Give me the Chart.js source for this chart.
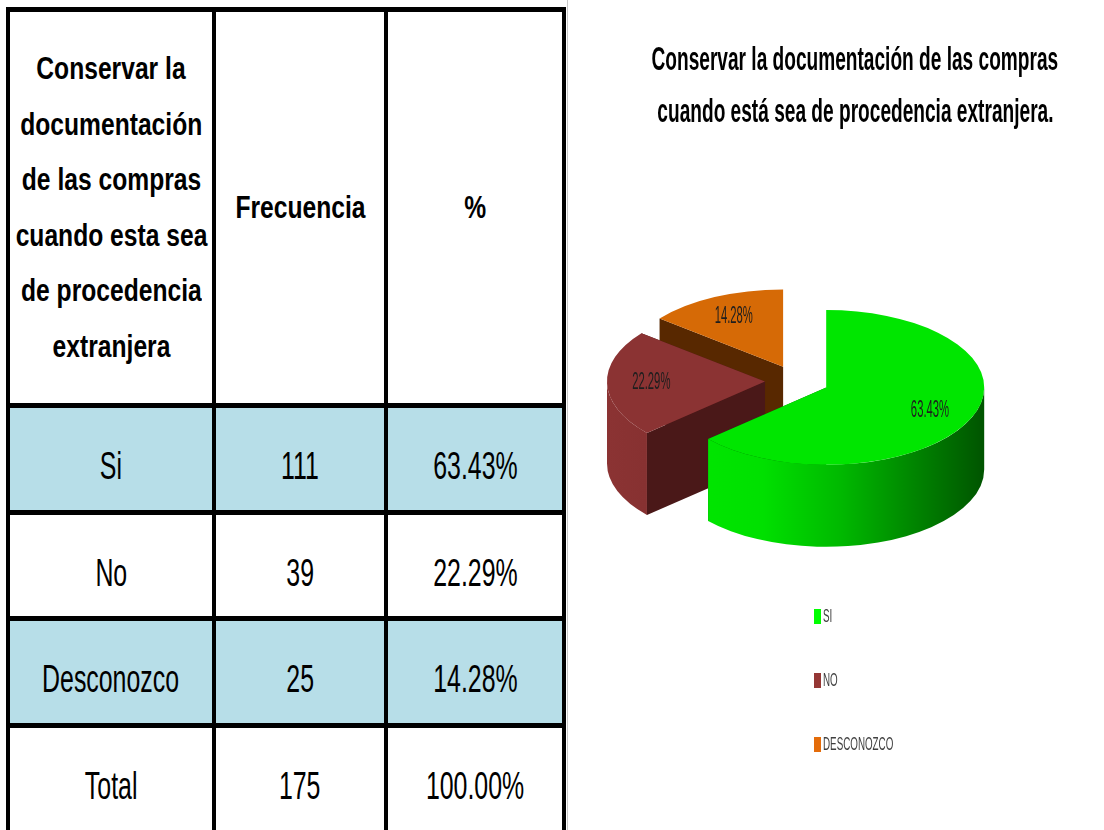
<!DOCTYPE html>
<html>
<head>
<meta charset="utf-8">
<script src="https://cdn.jsdelivr.net/npm/chart.js@4.4.1/dist/chart.umd.min.js"></script>
<style>
html,body{margin:0;padding:0;background:#fff;width:1104px;height:830px;overflow:hidden;position:relative;}
.nar{font-family:"Liberation Sans",Arial,sans-serif;}
#frame{position:absolute;background:#000;}
.cell{position:absolute;display:flex;flex-direction:column;align-items:center;justify-content:center;text-align:center;color:#000;}
.sx{display:inline-block;white-space:nowrap;transform-origin:center center;}
.hdr{font-weight:bold;font-size:32px;line-height:55.5px;}
.hdr .sx{transform:scaleX(0.77);}
.val{font-size:38px;line-height:44px;padding-top:14px;box-sizing:border-box;}
.val .sx{transform:scaleX(0.655);}
#panelLine{position:absolute;left:567px;top:0;width:1px;height:830px;background:#c8c8c8;}
#chartBox{position:absolute;left:567px;top:0;width:537px;height:830px;}
#title{position:absolute;left:255px;top:32px;width:1200px;display:flex;flex-direction:column;align-items:center;font-weight:bold;font-size:34px;line-height:52px;color:#000;pointer-events:none;}
#title .sx{transform:scaleX(0.562);}
#legend{position:absolute;left:814px;top:0;}
.li{position:absolute;left:0;height:16px;white-space:nowrap;display:flex;align-items:center;}
.li .box{display:inline-block;width:7px;height:15px;}
.li .txt{display:inline-block;font-size:18px;color:#404040;transform:scaleX(0.545);transform-origin:left center;margin-left:2px;}
</style>
</head>
<body>
<div id="frame"></div>
<div id="panelLine"></div>
<div id="chartBox"><canvas id="pie"></canvas></div>
<div id="title" class="nar"></div>
<div id="legend" class="nar"></div>
<script>
// ---------------- data ----------------
const headerQuestion = ['Conservar la', 'documentación', 'de las compras', 'cuando esta sea', 'de procedencia', 'extranjera'];
const headerFrequency = 'Frecuencia';
const headerPercent = '%';
const categories = ['Si', 'No', 'Desconozco'];
const frequencies = [111, 39, 25];
const percentLabels = ['63.43%', '22.29%', '14.28%'];
const totalLabel = 'Total';
const totalFrequency = 175;
const totalPercent = '100.00%';
const chartTitle = ['Conservar la documentación de las compras', 'cuando está sea de procedencia extranjera.'];
const legendLabels = ['SI', 'NO', 'DESCONOZCO'];

// ---------------- styles ----------------
const topColors = ['rgb(0,230,0)', 'rgb(139,51,51)', 'rgb(214,106,6)'];
const legendColors = ['#00ff00', '#953735', '#e46c0a'];
const wallStyles = [
  {side: '#006800', rim: [[0, '#00e800'], [0.3, '#00e000'], [0.55, '#00b800'], [0.8, '#008000'], [1, '#005400']]},
  {side: '#4a1818', rim: [[0, '#8b3333'], [1, '#6a2424']]},
  {side: '#582800', rim: [[0, '#b05800'], [1, '#703800']]}
];
const rowBg = ['#ffffff', '#b7dee8', '#ffffff', '#b7dee8', '#ffffff'];

// ---------------- table ----------------
const colX = [8, 214, 386, 564];
const rowY = [9, 405, 512, 618, 725, 832];
const frame = document.getElementById('frame');
frame.style.left = (colX[0] - 2) + 'px';
frame.style.top = (rowY[0] - 2) + 'px';
frame.style.width = (colX[3] - colX[0] + 4) + 'px';
frame.style.height = (rowY[5] - rowY[0] + 10) + 'px';

const rows = [
  [headerQuestion, [headerFrequency], [headerPercent]],
  ...categories.map((c, i) => [[c], [String(frequencies[i])], [percentLabels[i]]]),
  [[totalLabel], [String(totalFrequency)], [totalPercent]]
];
rows.forEach((r, j) => {
  r.forEach((lines, i) => {
    const d = document.createElement('div');
    d.className = 'cell nar ' + (j === 0 ? 'hdr' : 'val');
    d.style.left = (colX[i] + 2 - colX[0] + 2) + 'px';
    d.style.top = (rowY[j] + 3 - rowY[0] + 2) + 'px';
    d.style.width = (colX[i + 1] - colX[i] - 4) + 'px';
    d.style.height = (rowY[j + 1] - rowY[j] - 5) + 'px';
    d.style.background = rowBg[j];
    d.innerHTML = lines.map(t => '<span class="sx">' + t + '</span>').join('');
    frame.appendChild(d);
  });
});

// ---------------- title & legend ----------------
document.getElementById('title').innerHTML = chartTitle.map(t => '<span class="sx">' + t + '</span>').join('');
const legendCenters = [616, 680, 744];
const lg = document.getElementById('legend');
legendLabels.forEach((l, i) => {
  const d = document.createElement('div');
  d.className = 'li';
  d.style.top = (legendCenters[i] - 8) + 'px';
  d.innerHTML = '<span class="box" style="background:' + legendColors[i] + '"></span><span class="txt">' + l + '</span>';
  lg.appendChild(d);
});

// ---------------- 3D pie ----------------
const SQ = 0.49, EXP = 32, DEPTH = 82, LABEL_R = 0.72;
function squash(ctx, x0, y0) { ctx.translate(x0, y0); ctx.scale(1, SQ); ctx.translate(-x0, -y0); }

const pie3d = {
  id: 'pie3d',
  beforeDatasetDraw(chart, args) {
    if (args.index !== 0) return;
    const ctx = chart.ctx;
    const arcs = chart.getDatasetMeta(0).data;
    const dz = DEPTH / SQ;
    const g = arcs.map((a, i) => {
      const mid = (a.startAngle + a.endAngle) / 2;
      return {a, i, mid, s: a.startAngle, e: a.endAngle, r: a.outerRadius, x0: a.x, y0: a.y,
        cx: a.x + Math.cos(mid) * EXP, cy: a.y + Math.sin(mid) * EXP};
    });
    const order = g.slice().sort((p, q) => Math.sin(p.mid) - Math.sin(q.mid));
    ctx.save();
    squash(ctx, g[0].x0, g[0].y0);
    order.forEach(p => {
      const st = wallStyles[p.i];
      const radial = th => {
        const ex = p.cx + p.r * Math.cos(th), ey = p.cy + p.r * Math.sin(th);
        ctx.beginPath();
        ctx.moveTo(p.cx, p.cy); ctx.lineTo(ex, ey); ctx.lineTo(ex, ey + dz); ctx.lineTo(p.cx, p.cy + dz);
        ctx.closePath(); ctx.fillStyle = st.side; ctx.fill();
      };
      const sVis = Math.cos(p.s) < -1e-6, eVis = Math.cos(p.e) > 1e-6;
      if (!sVis) radial(p.s);
      if (!eVis) radial(p.e);
      for (let k = -1; k <= 1; k++) {
        const lo = Math.max(p.s, 2 * Math.PI * k), hi = Math.min(p.e, 2 * Math.PI * k + Math.PI);
        if (hi > lo) {
          const gr = ctx.createLinearGradient(p.cx - p.r, 0, p.cx + p.r, 0);
          st.rim.forEach(([o, c]) => gr.addColorStop(o, c));
          ctx.beginPath();
          ctx.arc(p.cx, p.cy, p.r, lo, hi, false);
          ctx.arc(p.cx, p.cy + dz, p.r, hi, lo, true);
          ctx.closePath(); ctx.fillStyle = gr; ctx.fill();
        }
      }
      if (sVis) radial(p.s);
      if (eVis) radial(p.e);
    });
    g.forEach(p => {
      ctx.save();
      ctx.translate(Math.cos(p.mid) * EXP, Math.sin(p.mid) * EXP);
      p.a.draw(ctx);
      ctx.restore();
    });
    ctx.restore();
    return false;
  },
  afterDatasetsDraw(chart) {
    const ctx = chart.ctx;
    chart.getDatasetMeta(0).data.forEach((a, i) => {
      const mid = (a.startAngle + a.endAngle) / 2;
      const rho = EXP + a.outerRadius * LABEL_R;
      const x = a.x + Math.cos(mid) * rho, y = a.y + Math.sin(mid) * rho * SQ;
      ctx.save();
      ctx.translate(x, y); ctx.scale(0.49, 1);
      ctx.font = '23px "Liberation Sans", Arial, sans-serif';
      ctx.fillStyle = '#1e1e1e'; ctx.textAlign = 'center'; ctx.textBaseline = 'middle';
      ctx.fillText(percentLabels[i], 0, 0);
      ctx.restore();
    });
  }
};

new Chart(document.getElementById('pie'), {
  type: 'pie',
  data: {labels: legendLabels, datasets: [{data: frequencies, backgroundColor: topColors, borderWidth: 0}]},
  options: {
    responsive: true, maintainAspectRatio: false, animation: false, events: [],
    radius: 158, rotation: 0,
    layout: {padding: {left: 0, right: 77, top: 0, bottom: 68}},
    plugins: {legend: {display: false}, tooltip: {enabled: false}, title: {display: false}}
  },
  plugins: [pie3d]
});
</script>
</body>
</html>
